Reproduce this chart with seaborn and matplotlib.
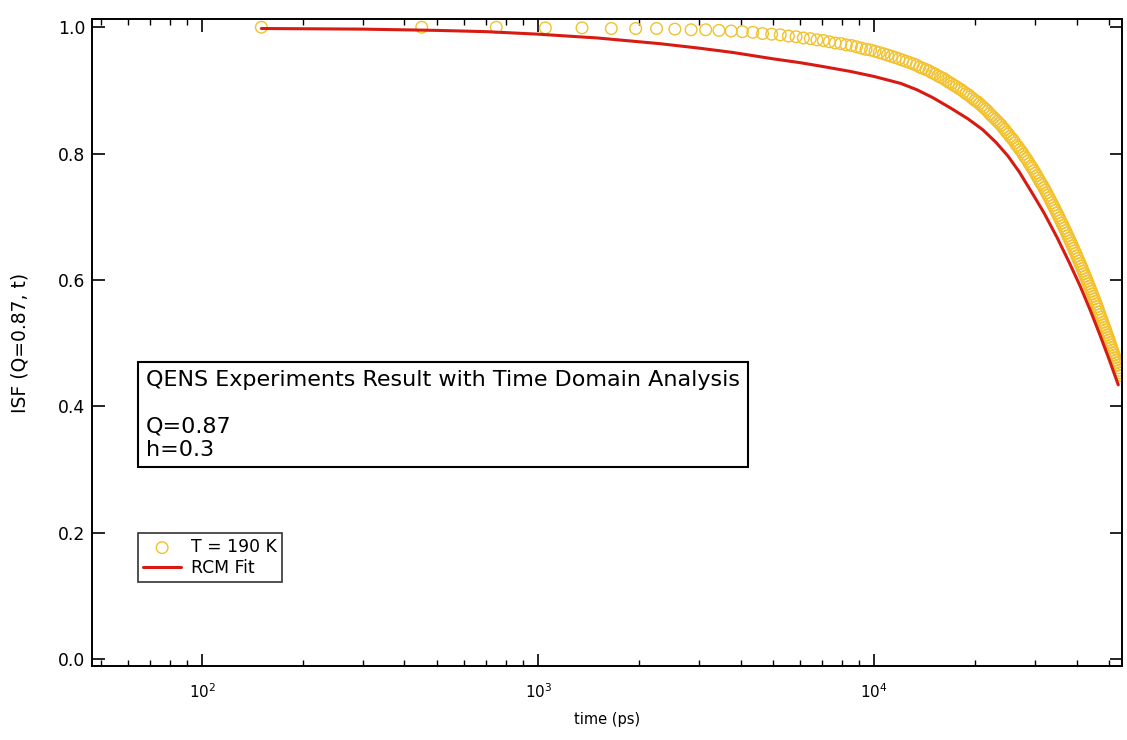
import numpy as np
import pandas as pd
import matplotlib
matplotlib.use("Agg")
import matplotlib.pyplot as plt
import matplotlib.ticker as mticker
import seaborn as sns

# ---------------- data ----------------
# measured ISF, T = 190 K : time sampled every 300 ps starting at 150 ps
time_data = list(range(150, 54151, 300))
isf_data = [
    1.000, 1.000, 1.000, 0.999, 0.999, 0.998, 0.998, 0.998, 0.997, 0.996,
    0.996, 0.995, 0.994, 0.993, 0.992, 0.990, 0.989, 0.988, 0.986, 0.985,
    0.983, 0.982, 0.980, 0.979, 0.977, 0.975, 0.974, 0.972, 0.971, 0.969,
    0.967, 0.965, 0.964, 0.962, 0.960, 0.958, 0.956, 0.954, 0.952, 0.950,
    0.948, 0.946, 0.944, 0.942, 0.940, 0.937, 0.935, 0.933, 0.931, 0.928,
    0.926, 0.923, 0.921, 0.919, 0.916, 0.913, 0.911, 0.908, 0.906, 0.903,
    0.901, 0.898, 0.895, 0.893, 0.890, 0.887, 0.884, 0.882, 0.879, 0.876,
    0.873, 0.870, 0.867, 0.863, 0.860, 0.857, 0.854, 0.851, 0.848, 0.845,
    0.841, 0.838, 0.834, 0.831, 0.827, 0.824, 0.821, 0.817, 0.813, 0.810,
    0.806, 0.803, 0.799, 0.795, 0.792, 0.788, 0.784, 0.780, 0.777, 0.773,
    0.769, 0.765, 0.761, 0.757, 0.753, 0.750, 0.746, 0.742, 0.738, 0.734,
    0.730, 0.726, 0.722, 0.718, 0.714, 0.710, 0.706, 0.702, 0.698, 0.694,
    0.690, 0.686, 0.682, 0.678, 0.674, 0.670, 0.666, 0.662, 0.658, 0.654,
    0.650, 0.646, 0.642, 0.638, 0.634, 0.630, 0.626, 0.622, 0.618, 0.614,
    0.610, 0.606, 0.602, 0.598, 0.594, 0.590, 0.586, 0.582, 0.578, 0.574,
    0.570, 0.566, 0.562, 0.558, 0.554, 0.549, 0.545, 0.541, 0.537, 0.533,
    0.529, 0.525, 0.521, 0.517, 0.513, 0.509, 0.505, 0.501, 0.497, 0.493,
    0.489, 0.485, 0.481, 0.477, 0.473, 0.469, 0.465, 0.461, 0.457, 0.453,
    0.449,
]

# RCM fit curve
time_fit = [150, 300, 500, 700, 1000, 1500, 2300, 3000, 3800, 5000, 6000,
            7000, 8500, 10000, 12000, 13400, 15000, 17000, 19000, 21000,
            23000, 25000, 27000, 29700, 32000, 35000, 38000, 41000, 44000,
            47000, 50000, 53200]
isf_fit = [0.998, 0.997, 0.995, 0.993, 0.989, 0.983, 0.974, 0.967, 0.960,
           0.950, 0.944, 0.938, 0.930, 0.922, 0.911, 0.901, 0.888, 0.871,
           0.855, 0.838, 0.818, 0.796, 0.771, 0.735, 0.706, 0.667, 0.628,
           0.590, 0.551, 0.512, 0.474, 0.434]

y_ticks = [0.0, 0.2, 0.4, 0.6, 0.8, 1.0]
label_data = "T = 190 K"
label_fit = "RCM Fit"
box_text = "QENS Experiments Result with Time Domain Analysis\n\nQ=0.87\nh=0.3"
x_label = "time (ps)"
y_label = "ISF (Q=0.87, t)"

n = min(len(time_data), len(isf_data))
df_data = pd.DataFrame({"time": time_data[:n], "isf": isf_data[:n]})
df_fit = pd.DataFrame({"time": time_fit, "isf": isf_fit})

# ---------------- plotting ----------------
sns.set_theme(style="ticks")
plt.rcParams["font.family"] = ["DejaVu Sans"]
for k in ["text.color", "axes.labelcolor", "xtick.color", "ytick.color",
          "axes.edgecolor"]:
    plt.rcParams[k] = "black"

fig = plt.figure(figsize=(11.27, 7.40), dpi=100)
ax = fig.add_axes([0.0816, 0.100, 0.9140, 0.8743])

sns.scatterplot(data=df_data, x="time", y="isf", ax=ax, marker="o",
                s=70, facecolors="none", edgecolor="#f2c12c", linewidth=1.0,
                label=label_data, zorder=2)
sns.lineplot(data=df_fit, x="time", y="isf", ax=ax, color="#d81b12",
             linewidth=2.2, estimator=None, sort=True, label=label_fit,
             zorder=3)

ax.set_xscale("log")
ax.set_xlim(47, 54600)
ax.set_ylim(-0.011, 1.013)
ax.set_yticks(y_ticks)
ax.xaxis.set_minor_locator(mticker.LogLocator(base=10, subs=np.arange(2, 10)))
ax.xaxis.set_minor_formatter(mticker.NullFormatter())

for s in ax.spines.values():
    s.set_visible(True)
    s.set_color("black")
    s.set_linewidth(1.4)

ax.tick_params(axis="both", which="both", direction="in", top=True,
               right=True, colors="black")
ax.tick_params(axis="both", which="major", length=9, width=1.2)
ax.tick_params(axis="both", which="minor", length=4.5, width=1.0)
ax.tick_params(axis="x", which="major", pad=12, labelsize=11)
ax.tick_params(axis="y", which="major", pad=5, labelsize=12.4)

ax.set_xlabel(x_label, fontsize=10.5, labelpad=8)
ax.set_ylabel(y_label, fontsize=13.5, labelpad=20)

ax.text(0.0524, 0.4575, box_text, transform=ax.transAxes, ha="left", va="top",
        fontsize=16, color="black", linespacing=1.2,
        bbox=dict(boxstyle="square,pad=0.35", facecolor="white",
                  edgecolor="black", linewidth=1.5))

leg = ax.legend(loc="upper left", bbox_to_anchor=(0.0447, 0.2056),
                borderaxespad=0, frameon=True, fancybox=False,
                edgecolor="black", fontsize=12.4, handlelength=2.2,
                handletextpad=0.6, borderpad=0.3, labelspacing=0.15)
leg.get_frame().set_linewidth(1.2)
for t in leg.get_texts():
    t.set_color("black")

fig.savefig("out.png", dpi=100, facecolor="white")
